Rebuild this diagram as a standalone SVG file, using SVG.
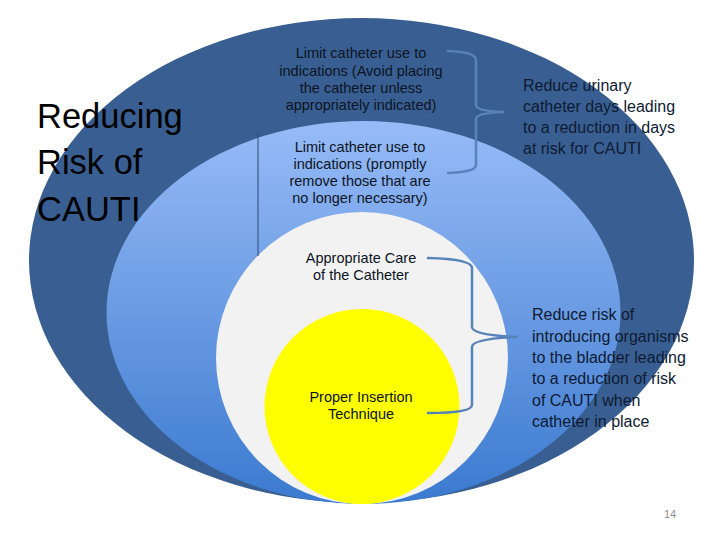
<svg xmlns="http://www.w3.org/2000/svg" width="720" height="540" viewBox="0 0 720 540">
<defs>
<linearGradient id="lightGrad" gradientUnits="userSpaceOnUse" x1="0" y1="121" x2="0" y2="504">
<stop offset="0" stop-color="#97BBF7"/>
<stop offset="0.5" stop-color="#6A9BE3"/>
<stop offset="1" stop-color="#3B7AD0"/>
</linearGradient>
<style>
.small{font-family:"Liberation Sans",Arial,sans-serif;font-size:14.5px;fill:#0c1424;text-anchor:middle}
.side{font-family:"Liberation Sans",Arial,sans-serif;font-size:16px;fill:#0e1a32}
.title{font-family:"Liberation Sans",Arial,sans-serif;font-size:34.5px;fill:#000}
.brace{fill:none;stroke:#5882BA;stroke-width:2.5;stroke-linecap:round;stroke-linejoin:round}
</style>
</defs>
<rect width="720" height="540" fill="#ffffff"/>
<g id="ring-outer">
<ellipse cx="361.5" cy="260.5" rx="332.5" ry="242.5" fill="#395F92"/>
</g>
<g id="ring-light">
<ellipse cx="363.5" cy="312.5" rx="257" ry="191.5" fill="url(#lightGrad)"/>
</g>
<g id="ring-care">
<circle cx="362" cy="358" r="146" fill="#F2F2F2"/>
</g>
<g id="ring-insertion">
<circle cx="362" cy="406.5" r="97.5" fill="#FFFF00"/>
</g>
<g id="divider">
<line x1="258" y1="133" x2="258" y2="256" stroke="#2c4a73" stroke-width="1"/>
</g>
<g id="title">
<text class="title" x="37" y="128">Reducing</text>
<text class="title" x="37" y="174">Risk of</text>
<text class="title" x="37" y="221">CAUTI</text>
</g>
<g id="node-avoid">
<text class="small" x="361" y="58">Limit catheter use to</text>
<text class="small" x="361" y="75.5">indications (Avoid placing</text>
<text class="small" x="361" y="93">the catheter unless</text>
<text class="small" x="361" y="110">appropriately indicated)</text>
</g>
<g id="node-remove">
<text class="small" x="360" y="152">Limit catheter use to</text>
<text class="small" x="360" y="169">indications (promptly</text>
<text class="small" x="360" y="186">remove those that are</text>
<text class="small" x="360" y="203">no longer necessary)</text>
</g>
<g id="node-care">
<text class="small" x="361" y="263">Appropriate Care</text>
<text class="small" x="361" y="280">of the Catheter</text>
</g>
<g id="node-insertion">
<text class="small" x="361" y="402">Proper Insertion</text>
<text class="small" x="361" y="419">Technique</text>
</g>
<g id="node-days">
<text class="side" x="523" y="91">Reduce urinary</text>
<text class="side" x="523" y="112">catheter days leading</text>
<text class="side" x="523" y="133">to a reduction in days</text>
<text class="side" x="523" y="154">at risk for CAUTI</text>
</g>
<g id="node-organisms">
<text class="side" x="532" y="320">Reduce risk of</text>
<text class="side" x="532" y="341.5">introducing organisms</text>
<text class="side" x="532" y="363">to the bladder leading</text>
<text class="side" x="532" y="384">to a reduction of risk</text>
<text class="side" x="532" y="405.5">of CAUTI when</text>
<text class="side" x="532" y="427">catheter in place</text>
</g>
<g id="connectors">
<path class="brace" d="M448,51 Q476,52 476,60 L476,105 Q476,111 503,112 Q476,113 476,119 L476,165 Q476,172 448,173"/>
<path class="brace" d="M428,258 Q472,259 472,268 L472,327 Q472,335 517,337 Q472,339 472,347 L472,405 Q472,413 428,413"/>
</g>
<g id="page-number">
<text x="670" y="518" font-family="Liberation Sans,Arial,sans-serif" font-size="11" fill="#8c8c8c" text-anchor="middle">14</text>
</g>
</svg>
